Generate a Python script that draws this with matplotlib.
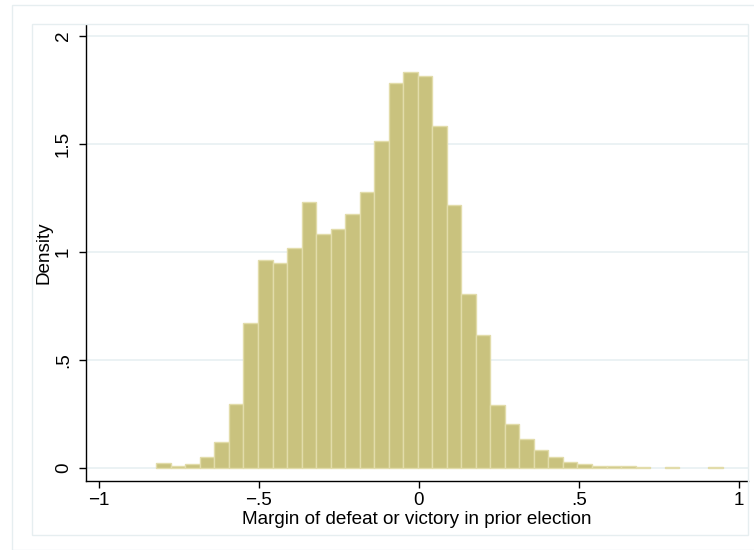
import matplotlib
matplotlib.use("Agg")
import matplotlib.pyplot as plt
from matplotlib.patches import Rectangle
import numpy as np

# ---- data ----
bin_start = -0.820
bin_width = 0.04536
densities = [0.023, 0.008, 0.020, 0.052, 0.120, 0.296, 0.670, 0.964, 0.948,
             1.020, 1.233, 1.082, 1.105, 1.175, 1.279, 1.515, 1.784, 1.832,
             1.815, 1.582, 1.216, 0.804, 0.614, 0.290, 0.204, 0.136, 0.085,
             0.049, 0.028, 0.020, 0.011, 0.009, 0.009, 0.004, 0.0, 0.005,
             0.0, 0.0, 0.005]
x_ticks = [-1, -0.5, 0, 0.5, 1]
x_ticklabels = ["\u22121", "\u2212.5", "0", ".5", "1"]
y_ticks = [0, 0.5, 1, 1.5, 2]
y_ticklabels = ["0", ".5", "1", "1.5", "2"]
x_label = "Margin of defeat or victory in prior election"
y_label = "Density"

plt.rcParams['font.family'] = ['Liberation Sans', 'DejaVu Sans']
FS = 13.6

W, H = 754, 550
fig = plt.figure(figsize=(W / 100, H / 100), dpi=100)
fig.patch.set_facecolor("white")

frame_col = "#e6eef0"
# outer graph region border
fig.patches.append(Rectangle((12 / W, 0), 1.2, 1 - 5 / H, transform=fig.transFigure,
                             fill=False, edgecolor=frame_col, linewidth=1.0, zorder=0))
# inner plot region border
fig.patches.append(Rectangle((32 / W, 1 - 535 / H), (748 - 32) / W, (535 - 24) / H,
                             transform=fig.transFigure, fill=False,
                             edgecolor=frame_col, linewidth=1.0, zorder=0))

ax = fig.add_axes([86 / W, 1 - 481 / H, (748 - 86) / W, (481 - 25) / H])
ax.set_facecolor("none")

edges = bin_start + bin_width * np.arange(len(densities))
d = np.array(densities)
mask = d > 0
ax.bar(edges[mask], d[mask], width=bin_width, align="edge",
       color="#c9c27e", edgecolor="#e2dcaa", linewidth=1.0, zorder=3)

ax.set_xlim(-1.0397, 1.028)
ax.set_ylim(-0.060, 2.051)

ax.set_xticks(x_ticks)
ax.set_xticklabels(x_ticklabels)
ax.set_yticks(y_ticks)
ax.set_yticklabels(y_ticklabels, rotation=90, va="center")

for yv in y_ticks:
    ax.axhline(yv, color="#e8f0f2", linewidth=1.2, zorder=1)

for s in ["top", "right"]:
    ax.spines[s].set_visible(False)
for s in ["left", "bottom"]:
    ax.spines[s].set_color("black")
    ax.spines[s].set_linewidth(1.0)

ax.tick_params(axis="both", direction="out", length=5, width=1.0,
               color="black", labelsize=FS, labelcolor="black")
ax.tick_params(axis="x", pad=3)
ax.tick_params(axis="y", pad=5)

ax.set_xlabel(x_label, fontsize=FS, labelpad=1)
ax.set_ylabel(y_label, fontsize=FS, labelpad=2)

fig.savefig("out.png", dpi=100)
